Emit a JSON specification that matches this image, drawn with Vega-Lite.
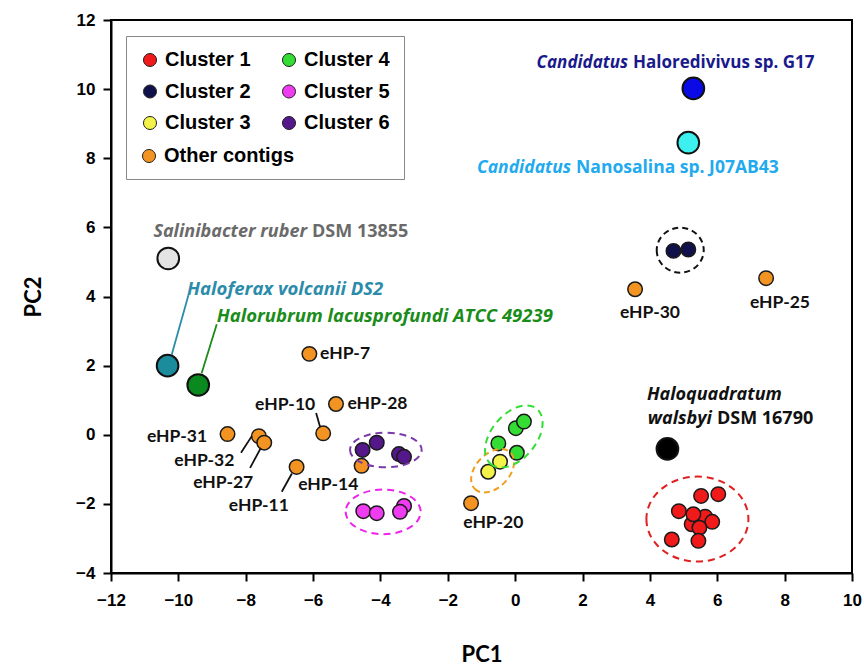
{
  "$schema": "https://vega.github.io/schema/vega-lite/v6.json",
  "width": 741,
  "height": 553,
  "autosize": {"type": "none"},
  "padding": {"left": 111, "top": 20, "right": 12, "bottom": 99},
  "background": "#ffffff",
  "config": {
    "view": {"stroke": "#000000", "strokeWidth": 2},
    "axis": {
      "grid": false,
      "domainColor": "#000000",
      "domainWidth": 2,
      "tickColor": "#000000",
      "tickWidth": 2,
      "tickSize": 8,
      "labelFont": "Liberation Sans",
      "labelFontWeight": "bold",
      "labelFontSize": 17,
      "labelColor": "#000000",
      "labelFlush": false,
      "labelOverlap": false,
      "titleFont": "Lato",
      "titleFontSize": 22,
      "titleFontWeight": "bold",
      "titleColor": "#000000"
    }
  },
  "datasets": {
    "others": [
      {"g": "Other contigs", "id": "eHP-7", "pc1": -6.11, "pc2": 2.34},
      {"g": "Other contigs", "id": "eHP-28", "pc1": -5.32, "pc2": 0.89},
      {"g": "Other contigs", "id": "eHP-10", "pc1": -5.70, "pc2": 0.04},
      {"g": "Other contigs", "id": "eHP-31", "pc1": -8.54, "pc2": 0.02},
      {"g": "Other contigs", "id": "eHP-32", "pc1": -7.61, "pc2": -0.04},
      {"g": "Other contigs", "id": "eHP-27", "pc1": -7.45, "pc2": -0.23},
      {"g": "Other contigs", "id": "eHP-11", "pc1": -6.49, "pc2": -0.93},
      {"g": "Other contigs", "id": "eHP-14", "pc1": -4.56, "pc2": -0.90},
      {"g": "Other contigs", "id": "eHP-20", "pc1": -1.31, "pc2": -1.98},
      {"g": "Other contigs", "id": "eHP-30", "pc1": 3.56, "pc2": 4.21},
      {"g": "Other contigs", "id": "eHP-25", "pc1": 7.45, "pc2": 4.53}
    ],
    "clusters": [
      {"g": "Cluster 6", "pc1": -4.53, "pc2": -0.44},
      {"g": "Cluster 6", "pc1": -4.11, "pc2": -0.23},
      {"g": "Cluster 6", "pc1": -3.45, "pc2": -0.56},
      {"g": "Cluster 6", "pc1": -3.30, "pc2": -0.64},
      {"g": "Cluster 5", "pc1": -4.51, "pc2": -2.21},
      {"g": "Cluster 5", "pc1": -4.11, "pc2": -2.27},
      {"g": "Cluster 5", "pc1": -3.30, "pc2": -2.06},
      {"g": "Cluster 5", "pc1": -3.42, "pc2": -2.23},
      {"g": "Cluster 4", "pc1": -0.50, "pc2": -0.25},
      {"g": "Cluster 4", "pc1": 0.02, "pc2": 0.19},
      {"g": "Cluster 4", "pc1": 0.26, "pc2": 0.38},
      {"g": "Cluster 4", "pc1": 0.05, "pc2": -0.52},
      {"g": "Cluster 3", "pc1": -0.45, "pc2": -0.78},
      {"g": "Cluster 3", "pc1": -0.80, "pc2": -1.07},
      {"g": "Cluster 2", "pc1": 4.70, "pc2": 5.32},
      {"g": "Cluster 2", "pc1": 5.14, "pc2": 5.36},
      {"g": "Cluster 1", "pc1": 6.03, "pc2": -1.72},
      {"g": "Cluster 1", "pc1": 5.52, "pc2": -1.77},
      {"g": "Cluster 1", "pc1": 4.86, "pc2": -2.21},
      {"g": "Cluster 1", "pc1": 5.64, "pc2": -2.37},
      {"g": "Cluster 1", "pc1": 5.85, "pc2": -2.52},
      {"g": "Cluster 1", "pc1": 5.24, "pc2": -2.59},
      {"g": "Cluster 1", "pc1": 5.29, "pc2": -2.30},
      {"g": "Cluster 1", "pc1": 5.47, "pc2": -2.69},
      {"g": "Cluster 1", "pc1": 4.65, "pc2": -3.03},
      {"g": "Cluster 1", "pc1": 5.44, "pc2": -3.07}
    ],
    "refs": [
      {"name": "Haloredivivus", "pc1": 5.29, "pc2": 10.02},
      {"name": "Nanosalina", "pc1": 5.14, "pc2": 8.45},
      {"name": "Salinibacter", "pc1": -10.30, "pc2": 5.10},
      {"name": "Haloferax", "pc1": -10.32, "pc2": 2.0},
      {"name": "Halorubrum", "pc1": -9.41, "pc2": 1.44},
      {"name": "Haloquadratum", "pc1": 4.52, "pc2": -0.41}
    ],
    "ehp": [
      {"t": "eHP-7", "pc1": -5.05, "pc2": 2.34},
      {"t": "eHP-28", "pc1": -4.09, "pc2": 0.89},
      {"t": "eHP-10", "pc1": -6.83, "pc2": 0.86},
      {"t": "eHP-31", "pc1": -10.04, "pc2": -0.06},
      {"t": "eHP-32", "pc1": -9.23, "pc2": -0.76},
      {"t": "eHP-27", "pc1": -8.67, "pc2": -1.39},
      {"t": "eHP-11", "pc1": -7.61, "pc2": -2.06},
      {"t": "eHP-14", "pc1": -5.55, "pc2": -1.45},
      {"t": "eHP-20", "pc1": -0.65, "pc2": -2.56},
      {"t": "eHP-30", "pc1": 4.0, "pc2": 3.51},
      {"t": "eHP-25", "pc1": 7.86, "pc2": 3.80}
    ],
    "leaders": [
      {"lab": "eHP-10", "pc1": -5.91, "pc2": 0.63, "pc1b": -5.79, "pc2b": 0.22},
      {"lab": "eHP-32", "pc1": -8.14, "pc2": -0.52, "pc1b": -7.82, "pc2b": -0.04},
      {"lab": "eHP-27", "pc1": -7.87, "pc2": -0.96, "pc1b": -7.55, "pc2b": -0.38},
      {"lab": "eHP-11", "pc1": -6.93, "pc2": -1.65, "pc1b": -6.63, "pc2b": -1.12},
      {"lab": "Haloferax", "pc1": -9.70, "pc2": 4.04, "pc1b": -10.20, "pc2b": 2.31},
      {"lab": "Halorubrum", "pc1": -8.86, "pc2": 3.20, "pc1b": -9.31, "pc2b": 1.78}
    ],
    "spx": [
      {"t": "Candidatus", "seg": "name", "sp": "G17", "pc1": 3.41, "pc2": 10.76},
      {"t": "Haloredivivus sp. G17", "seg": "strain", "sp": "G17", "pc1": 3.41, "pc2": 10.76},
      {"t": "Candidatus", "seg": "name", "sp": "J07AB43", "pc1": 1.72, "pc2": 7.72},
      {"t": "Nanosalina sp. J07AB43", "seg": "strain", "sp": "J07AB43", "pc1": 1.72, "pc2": 7.72},
      {"t": "Salinibacter ruber", "seg": "name", "sp": "Salinibacter", "pc1": -6.12, "pc2": 5.87},
      {"t": "DSM 13855", "seg": "strain", "sp": "Salinibacter", "pc1": -6.12, "pc2": 5.87},
      {"t": "Haloferax volcanii DS2", "seg": "full", "sp": "Haloferax", "pc1": -9.74, "pc2": 4.23},
      {"t": "Halorubrum lacusprofundi ATCC 49239", "seg": "full", "sp": "Halorubrum", "pc1": -8.86, "pc2": 3.45},
      {"t": "Haloquadratum", "seg": "full", "sp": "Haloquadratum", "pc1": 3.91, "pc2": 1.15},
      {"t": "walsbyi", "seg": "name", "sp": "Haloquadratum", "pc1": 5.90, "pc2": 0.47},
      {"t": "DSM 16790", "seg": "strain", "sp": "Haloquadratum", "pc1": 5.90, "pc2": 0.47}
    ]
  },
  "encoding": {
    "x": {
      "field": "pc1", "type": "quantitative", "title": "PC1",
      "scale": {"domain": [-12, 10], "nice": false, "zero": false},
      "axis": {"values": [-12, -10, -8, -6, -4, -2, 0, 2, 4, 6, 8, 10], "labelPadding": 11, "titlePadding": 36}
    },
    "y": {
      "field": "pc2", "type": "quantitative", "title": "PC2",
      "scale": {"domain": [-4, 12], "nice": false, "zero": false},
      "axis": {"values": [-4, -2, 0, 2, 4, 6, 8, 10, 12], "labelPadding": 8, "titlePadding": 30}
    }
  },
  "layer": [
    {
      "data": {"name": "refs"},
      "mark": {"type": "point", "filled": true, "shape": "circle", "size": 470, "stroke": "#111111", "strokeWidth": 2, "opacity": 1},
      "encoding": {
        "color": {
          "condition": [
            {"test": "datum.name === 'Haloredivivus'", "value": "#0a0ae6"},
            {"test": "datum.name === 'Nanosalina'", "value": "#3cf0f0"},
            {"test": "datum.name === 'Salinibacter'", "value": "#e4e4e4"},
            {"test": "datum.name === 'Haloferax'", "value": "#1a8c9c"},
            {"test": "datum.name === 'Halorubrum'", "value": "#0a8a1e"}
          ],
          "value": "#000000"
        }
      }
    },
    {
      "data": {"name": "others"},
      "mark": {"type": "point", "filled": true, "shape": "circle", "size": 210, "stroke": "#1a1a1a", "strokeWidth": 1.5, "opacity": 1},
      "encoding": {
        "fill": {
          "field": "g", "type": "nominal",
          "scale": {"domain": ["Other contigs"], "range": ["#f39422"]},
          "legend": {
            "title": null, "orient": "none", "legendX": 28, "legendY": 126, "padding": 0,
            "labelFont": "Liberation Sans", "labelFontWeight": "bold", "labelFontSize": 20,
            "labelColor": "#000000", "labelOffset": 5, "labelLimit": 300,
            "symbolType": "circle", "symbolSize": 170, "symbolStrokeColor": "#222222",
            "symbolStrokeWidth": 1, "symbolOpacity": 1
          }
        }
      }
    },
    {
      "data": {"name": "clusters"},
      "mark": {"type": "point", "filled": true, "shape": "circle", "size": 210, "stroke": "#1a1a1a", "strokeWidth": 1.5, "opacity": 1},
      "encoding": {
        "color": {
          "field": "g", "type": "nominal",
          "scale": {
            "domain": ["Cluster 1", "Cluster 2", "Cluster 3", "Cluster 4", "Cluster 5", "Cluster 6"],
            "range": ["#f01a1a", "#10104a", "#f2f24a", "#33dd33", "#f03cf0", "#55188a"]
          },
          "legend": {
            "title": " ", "titleOrient": "bottom", "titleFontSize": 20, "titlePadding": 11.5,
            "orient": "none", "legendX": 15, "legendY": 16,
            "columns": 2, "columnPadding": 28, "rowPadding": 11.5,
            "padding": 14, "strokeColor": "#888888",
            "labelFont": "Liberation Sans", "labelFontWeight": "bold", "labelFontSize": 20,
            "labelColor": "#000000", "labelOffset": 5, "labelLimit": 300,
            "symbolType": "circle", "symbolSize": 170, "symbolStrokeColor": "#222222",
            "symbolStrokeWidth": 1, "symbolOpacity": 1
          }
        }
      }
    },
    {
      "data": {"values": [{"pc1": 5.41, "pc2": -2.44}]},
      "mark": {"type": "point", "filled": false, "shape": "M -1 0 A 1 0.833 0 1 0 1 0 A 1 0.833 0 1 0 -1 0 Z", "size": 10404, "stroke": "#e02020", "strokeWidth": 2, "strokeDash": [7, 5], "opacity": 1}
    },
    {
      "data": {"values": [{"pc1": 4.90, "pc2": 5.34}]},
      "mark": {"type": "point", "filled": false, "shape": "M -1 0 A 1 0.957 0 1 0 1 0 A 1 0.957 0 1 0 -1 0 Z", "size": 2209, "stroke": "#111111", "strokeWidth": 2, "strokeDash": [6, 4], "opacity": 1}
    },
    {
      "data": {"values": [{"pc1": -0.67, "pc2": -1.04}]},
      "mark": {"type": "point", "filled": false, "shape": "M -1 0 A 1 0.66 0 1 0 1 0 A 1 0.66 0 1 0 -1 0 Z", "size": 2600, "angle": 314, "stroke": "#f0a020", "strokeWidth": 2, "strokeDash": [6, 4], "opacity": 1}
    },
    {
      "data": {"values": [{"pc1": -0.04, "pc2": -0.05}]},
      "mark": {"type": "point", "filled": false, "shape": "M -1 0 A 1 0.62 0 1 0 1 0 A 1 0.62 0 1 0 -1 0 Z", "size": 5184, "angle": 310, "stroke": "#33dd33", "strokeWidth": 2, "strokeDash": [7, 5], "opacity": 1}
    },
    {
      "data": {"values": [{"pc1": -3.92, "pc2": -2.23}]},
      "mark": {"type": "point", "filled": false, "shape": "M -1 0 A 1 0.595 0 1 0 1 0 A 1 0.595 0 1 0 -1 0 Z", "size": 5625, "stroke": "#ee22ee", "strokeWidth": 2, "strokeDash": [7, 5], "opacity": 1}
    },
    {
      "data": {"values": [{"pc1": -3.84, "pc2": -0.44}]},
      "mark": {"type": "point", "filled": false, "shape": "M -1 0 A 1 0.483 0 1 0 1 0 A 1 0.483 0 1 0 -1 0 Z", "size": 5127, "stroke": "#7a3aaa", "strokeWidth": 2, "strokeDash": [7, 5], "opacity": 1}
    },
    {
      "data": {"name": "leaders"},
      "mark": {"type": "rule", "strokeWidth": 1.8},
      "encoding": {
        "x2": {"field": "pc1b"},
        "y2": {"field": "pc2b"},
        "color": {
          "condition": [
            {"test": "datum.lab === 'Haloferax'", "value": "#2b8caa"},
            {"test": "datum.lab === 'Halorubrum'", "value": "#1a8c1a"}
          ],
          "value": "#111111"
        }
      }
    },
    {
      "data": {"name": "ehp"},
      "mark": {"type": "text", "font": "Lato", "fontWeight": "bold", "fontSize": 17.5, "align": "center", "baseline": "middle", "color": "#111111"},
      "encoding": {"text": {"field": "t"}}
    },
    {
      "data": {"name": "spx"},
      "transform": [{"filter": "datum.seg === 'name'"}],
      "mark": {"type": "text", "font": "Open Sans", "fontWeight": "bold", "fontStyle": "italic", "align": "right", "baseline": "middle", "dx": -2},
      "encoding": {
        "text": {"field": "t"},
        "size": {
          "condition": [
            {"test": "datum.sp === 'Salinibacter' || datum.sp === 'Haloquadratum'", "value": 18},
            {"test": "datum.sp === 'J07AB43'", "value": 17.5}
          ],
          "value": 17
        },
        "color": {
          "condition": [
            {"test": "datum.sp === 'G17'", "value": "#1a1a8c"},
            {"test": "datum.sp === 'J07AB43'", "value": "#22aaee"},
            {"test": "datum.sp === 'Salinibacter'", "value": "#6a6a6a"}
          ],
          "value": "#111111"
        }
      }
    },
    {
      "data": {"name": "spx"},
      "transform": [{"filter": "datum.seg === 'strain'"}],
      "mark": {"type": "text", "font": "Open Sans", "fontWeight": "bold", "align": "left", "baseline": "middle", "dx": 3},
      "encoding": {
        "text": {"field": "t"},
        "size": {
          "condition": [
            {"test": "datum.sp === 'Salinibacter' || datum.sp === 'Haloquadratum'", "value": 18},
            {"test": "datum.sp === 'J07AB43'", "value": 17.5}
          ],
          "value": 17
        },
        "color": {
          "condition": [
            {"test": "datum.sp === 'G17'", "value": "#1a1a8c"},
            {"test": "datum.sp === 'J07AB43'", "value": "#22aaee"},
            {"test": "datum.sp === 'Salinibacter'", "value": "#6a6a6a"}
          ],
          "value": "#111111"
        }
      }
    },
    {
      "data": {"name": "spx"},
      "transform": [{"filter": "datum.seg === 'full'"}],
      "mark": {"type": "text", "font": "Open Sans", "fontWeight": "bold", "fontStyle": "italic", "align": "left", "baseline": "middle"},
      "encoding": {
        "text": {"field": "t"},
        "size": {
          "condition": [
            {"test": "datum.sp === 'Haloferax'", "value": 18.5},
            {"test": "datum.sp === 'Halorubrum'", "value": 18.5}
          ],
          "value": 18
        },
        "color": {
          "condition": [
            {"test": "datum.sp === 'Haloferax'", "value": "#2b8caa"},
            {"test": "datum.sp === 'Halorubrum'", "value": "#1a8c1a"}
          ],
          "value": "#111111"
        }
      }
    }
  ]
}
